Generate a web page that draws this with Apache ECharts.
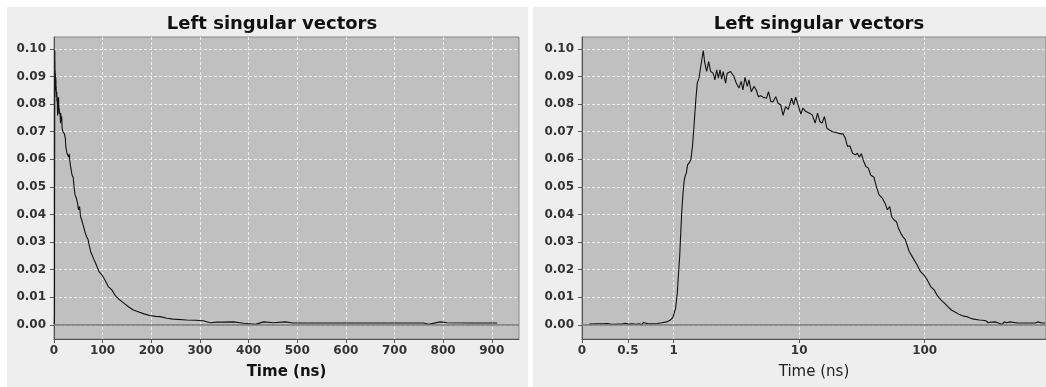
<!DOCTYPE html>
<html>
<head>
<meta charset="utf-8">
<script src="https://cdn.jsdelivr.net/npm/echarts@6/dist/echarts.min.js"></script>
<style>
html,body{margin:0;padding:0;background:#fff;}
#chart{width:1046px;height:387px;}
</style>
</head>
<body>
<div id="chart"></div>
<script>
// time axis (ns) and first left singular vector
var TIME_NS = [0.08,0.15,0.22,0.28,0.32,0.34,0.36,0.38,0.40,0.42,0.44,0.47,0.51,0.55,0.59,0.62,0.65,0.67,0.69,0.72,
	0.77,0.82,0.87,0.92,0.96,0.99,1.005,1.035,1.068,1.09,1.116,1.14,1.158,1.186,1.21,1.23,1.26,1.29,1.31,1.34,
	1.37,1.41,1.45,1.50,1.54,1.59,1.62,1.67,1.72,1.77,1.83,1.90,1.97,2.06,2.13,2.20,2.27,2.34,2.41,2.48,
	2.59,2.67,2.84,3.02,3.15,3.31,3.45,3.56,3.70,3.86,3.98,4.15,4.36,4.55,4.72,4.94,5.16,5.35,5.49,5.69,
	5.95,6.21,6.50,6.79,7.13,7.44,7.78,8.18,8.70,9.03,9.37,9.79,10.3,10.7,11.3,12.1,12.7,13.4,14.0,14.6,
	15.2,15.9,16.6,17.3,18.4,19.6,20.2,21.4,22.4,23.3,24.3,25.3,26.6,28.0,29.1,30.1,31.3,32.5,34.0,35.6,
	37.1,39.4,41.2,43.3,46.0,48.3,50.4,52.6,54.6,57.0,59.6,61.8,64.5,67.3,69.9,73.0,75.3,80.8,87.0,92.6,
	98.6,104.8,111.6,118.9,126.5,134.8,143.6,153,163,173,185,197,209,218,232,245,273,290,307,321,
	335,348,369,390,414,431,451,475,492,550,650,760,770,794,808,860,911];
var LSV = [0.0003,0.0004,0.0004,0.0005,0.0002,0.0008,0.0002,0.0009,0.0003,0.0008,0.0003,0.0006,0.0003,0.0004,0.0002,0.0004,0.0001,0.0009,0.0002,0.0004,
	0.0004,0.0005,0.0008,0.0011,0.0017,0.0026,0.0030,0.0060,0.0115,0.0180,0.0248,0.0340,0.0406,0.0477,0.0520,0.0537,0.0550,0.0580,0.0586,0.0590,
	0.0598,0.0646,0.0718,0.0815,0.0876,0.0894,0.0918,0.0912,0.0994,0.0948,0.0918,0.0954,0.0918,0.0912,0.0888,0.0924,0.0894,0.0924,0.0890,0.0918,
	0.0876,0.0912,0.0918,0.0900,0.0876,0.0858,0.0882,0.0851,0.0897,0.0864,0.0888,0.0845,0.0864,0.0851,0.0827,0.0830,0.0825,0.0830,0.0821,0.0845,
	0.0809,0.0809,0.0827,0.0803,0.0797,0.0759,0.0791,0.0781,0.0821,0.0797,0.0825,0.0797,0.0764,0.0785,0.0773,0.0767,0.0761,0.0731,0.0767,0.0737,
	0.0731,0.0755,0.0713,0.0707,0.0700,0.0697,0.0700,0.0692,0.0692,0.0676,0.0646,0.0649,0.0622,0.0616,0.0622,0.0608,0.0620,0.0595,0.0574,0.0568,
	0.0543,0.0535,0.0501,0.0471,0.0459,0.0441,0.0417,0.0429,0.0392,0.0380,0.0374,0.0350,0.0332,0.0318,0.0310,0.0284,0.0266,0.0242,0.0217,0.0193,
	0.0181,0.0163,0.0139,0.0127,0.0105,0.0091,0.0079,0.0066,0.0054,0.0048,0.0040,0.0034,0.0031,0.0030,0.0024,0.0021,0.0018,0.0017,0.0015,0.0008,
	0.0010,0.0010,0.0011,0.0006,0.0002,0.0011,0.0008,0.0011,0.0007,0.0007,0.0007,0.0007,0.0002,0.0011,0.0008,0.0007,0.0007];
var X_TICKS_LEFT = [0,100,200,300,400,500,600,700,800,900];
var X_TICKS_RIGHT = [0,0.5,1,10,100];
var Y_TICKS = [0,0.01,0.02,0.03,0.04,0.05,0.06,0.07,0.08,0.09,0.10];

// linear up to 1 ns, log10 after that (one decade = LOG_K linear units)
var LOG_K = 1.3686;
function linLog(t){ return t <= 1 ? t : 1 + LOG_K*Math.log10(t); }
function linLogInv(u){ return u <= 1 ? u : Math.pow(10,(u-1)/LOG_K); }

var FONT = 'DejaVu Sans';
var leftData = [], rightData = [];
for(var i=0;i<TIME_NS.length;i++){
	leftData.push([TIME_NS[i], LSV[i]]);
	rightData.push([linLog(TIME_NS[i]), LSV[i]]);
}

function yAxisOpt(gi){
	return {
		type:'value', gridIndex:gi, min:-0.0051, max:0.1043,
		axisLine:{show:true, lineStyle:{color:'#555', width:1}},
		axisTick:{show:true, length:4, customValues:Y_TICKS, lineStyle:{color:'#555'}},
		axisLabel:{customValues:Y_TICKS, margin:8, fontFamily:FONT, fontWeight:'bold', fontSize:12, color:'#333',
			formatter:function(v){ return v.toFixed(2); }},
		splitLine:{show:true, lineStyle:{color:'#ededed', type:[3,2], width:1}}
	};
}
function seriesOpt(gi, data){
	return {
		type:'line', xAxisIndex:gi, yAxisIndex:gi, data:data, showSymbol:false, symbol:'none',
		lineStyle:{color:'#111', width:1.1}, animation:false,
		markLine:{silent:true, symbol:'none', label:{show:false}, data:[{yAxis:0}],
			lineStyle:{color:'#777', type:'solid', width:1.5}}
	};
}

var chart = echarts.init(document.getElementById('chart'));
chart.setOption({
	animation:false,
	backgroundColor:'#fff',
	graphic:[
		{type:'rect', z:-100, shape:{x:7, y:7, width:521, height:380}, style:{fill:'#eeeeee'}},
		{type:'rect', z:-100, shape:{x:533, y:7, width:513, height:380}, style:{fill:'#eeeeee'}}
	],
	title:[
		{text:'Left singular vectors', left:267, top:10, textAlign:'center',
			textStyle:{fontFamily:FONT, fontWeight:'bold', fontSize:18, color:'#111'}},
		{text:'Left singular vectors', left:814, top:10, textAlign:'center',
			textStyle:{fontFamily:FONT, fontWeight:'bold', fontSize:18, color:'#111'}}
	],
	grid:[
		{left:54, top:37, width:465, height:302, show:true, backgroundColor:'#c0c0c0', borderColor:'#888', borderWidth:1},
		{left:582, top:37, width:464, height:302, show:true, backgroundColor:'#c0c0c0', borderColor:'#888', borderWidth:1}
	],
	xAxis:[
		{
			type:'value', gridIndex:0, min:0, max:956,
			name:'Time (ns)', nameLocation:'middle', nameGap:26,
			nameTextStyle:{fontFamily:FONT, fontWeight:'bold', fontSize:15, color:'#111'},
			axisLine:{show:true, onZero:false, lineStyle:{color:'#555', width:1}},
			axisTick:{show:true, length:4, customValues:X_TICKS_LEFT, lineStyle:{color:'#555'}},
			axisLabel:{customValues:X_TICKS_LEFT, margin:6, fontFamily:FONT, fontWeight:'bold', fontSize:12, color:'#333'},
			splitLine:{show:true, lineStyle:{color:'#ededed', type:[3,2], width:1}}
		},
		{
			type:'value', gridIndex:1, min:0, max:5.06,
			name:'Time (ns)', nameLocation:'middle', nameGap:26,
			nameTextStyle:{fontFamily:FONT, fontWeight:'normal', fontSize:15, color:'#222'},
			axisLine:{show:true, onZero:false, lineStyle:{color:'#555', width:1}},
			axisTick:{show:true, length:4, customValues:X_TICKS_RIGHT.map(linLog), lineStyle:{color:'#555'}},
			axisLabel:{customValues:X_TICKS_RIGHT.map(linLog), margin:6, fontFamily:FONT, fontWeight:'bold', fontSize:12, color:'#333',
				formatter:function(v){
					var t = linLogInv(v);
					return t < 1 ? String(+t.toFixed(1)) : String(Math.round(t));
				}},
			splitLine:{show:true, lineStyle:{color:'#ededed', type:[3,2], width:1}}
		}
	],
	yAxis:[yAxisOpt(0), yAxisOpt(1)],
	series:[seriesOpt(0, leftData), seriesOpt(1, rightData)]
});
</script>
</body>
</html>
